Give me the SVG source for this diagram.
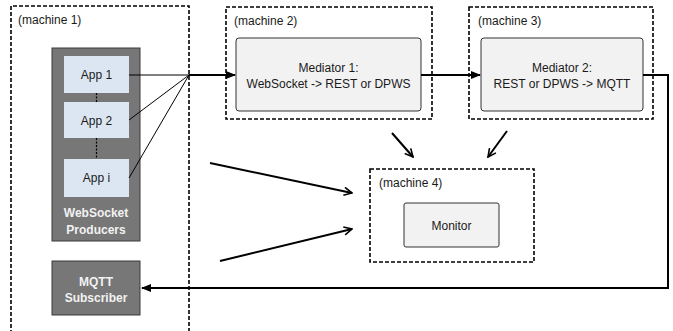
<svg xmlns="http://www.w3.org/2000/svg" width="673" height="331" viewBox="0 0 673 331">
<defs>
<style>
text{font-family:"Liberation Sans","DejaVu Sans",sans-serif;font-size:12px;fill:#1a1a1a}
.mach{fill:none;stroke:#000;stroke-width:1.6;stroke-dasharray:4,2}
.med{fill:#f2f2f2;stroke:#333;stroke-width:1}
.app{fill:#dce6f2;stroke:none}
.grey{fill:#777;stroke:#3a3a3a;stroke-width:1}
.wt{fill:#f2f2f2;font-weight:bold}
.thin{stroke:#000;stroke-width:1;fill:none}
.thick{stroke:#000;stroke-width:2;fill:none}
</style>
<marker id="ah" viewBox="0 0 10 10" refX="9" refY="5" markerWidth="5" markerHeight="5" orient="auto"><path d="M0,1 L10,5 L0,9 z" fill="#000"/></marker>
<marker id="oh" viewBox="0 0 10 10" refX="9" refY="5" markerWidth="5" markerHeight="5" orient="auto"><path d="M1,1 L9,5 L1,9" fill="none" stroke="#000" stroke-width="1.6"/></marker>
</defs>
<g id="machine1">
<path class="mach" d="M11,340 V6 H189 V340"/>
<text x="18" y="24">(machine  1)</text>
</g>
<g id="producers">
<rect class="grey" x="52" y="48" width="88" height="193"/>
<rect class="app" x="64" y="56" width="65" height="37"/>
<text x="96.5" y="79" text-anchor="middle">App 1</text>
<rect class="app" x="64" y="102" width="65" height="36"/>
<text x="96.5" y="125" text-anchor="middle">App 2</text>
<rect class="app" x="64" y="159" width="65" height="38"/>
<text x="96.5" y="182" text-anchor="middle">App i</text>
<path d="M96.5,93 V102 M96.5,138 V159" stroke="#000" stroke-width="1.2" stroke-dasharray="2,1.5"/>
<text class="wt" x="96" y="217" text-anchor="middle">WebSocket</text>
<text class="wt" x="96" y="234" text-anchor="middle">Producers</text>
</g>
<g id="subscriber">
<rect class="grey" x="52" y="261" width="88" height="54"/>
<text class="wt" x="96" y="286" text-anchor="middle">MQTT</text>
<text class="wt" x="96" y="302" text-anchor="middle">Subscriber</text>
</g>
<g id="machine2">
<rect class="mach" x="226" y="7" width="206" height="112"/>
<text x="234" y="25">(machine 2)</text>
<rect class="med" x="236" y="38" width="185" height="73" rx="3"/>
<text x="328.5" y="72" text-anchor="middle">Mediator 1:</text>
<text x="328.5" y="88" text-anchor="middle">WebSocket -&gt; REST or DPWS</text>
</g>
<g id="machine3">
<rect class="mach" x="469" y="7" width="184" height="112"/>
<text x="478" y="25">(machine 3)</text>
<rect class="med" x="481" y="38" width="162" height="73" rx="3"/>
<text x="562" y="72" text-anchor="middle">Mediator 2:</text>
<text x="562" y="88" text-anchor="middle">REST or DPWS -&gt; MQTT</text>
</g>
<g id="machine4">
<rect class="mach" x="370" y="169" width="164" height="93"/>
<text x="379" y="187">(machine 4)</text>
<rect class="med" x="404" y="203" width="95" height="44" rx="2"/>
<text x="451.5" y="230" text-anchor="middle">Monitor</text>
</g>
<g id="connectors">
<path class="thin" d="M129,75 H189 M129,120 L189,75 M129,178 L189,75"/>
<path class="thick" d="M189,75 H235" marker-end="url(#ah)"/>
<path class="thick" d="M421,75 H480" marker-end="url(#ah)"/>
<path class="thick" d="M643,75 H668 V288 H142" marker-end="url(#ah)"/>
<path class="thick" d="M392,133 L413,157" marker-end="url(#oh)"/>
<path class="thick" d="M507,131 L488,157" marker-end="url(#oh)"/>
<path class="thick" d="M210,163 L352,193" marker-end="url(#oh)"/>
<path class="thick" d="M220,261 L352,229" marker-end="url(#oh)"/>
</g>
</svg>
